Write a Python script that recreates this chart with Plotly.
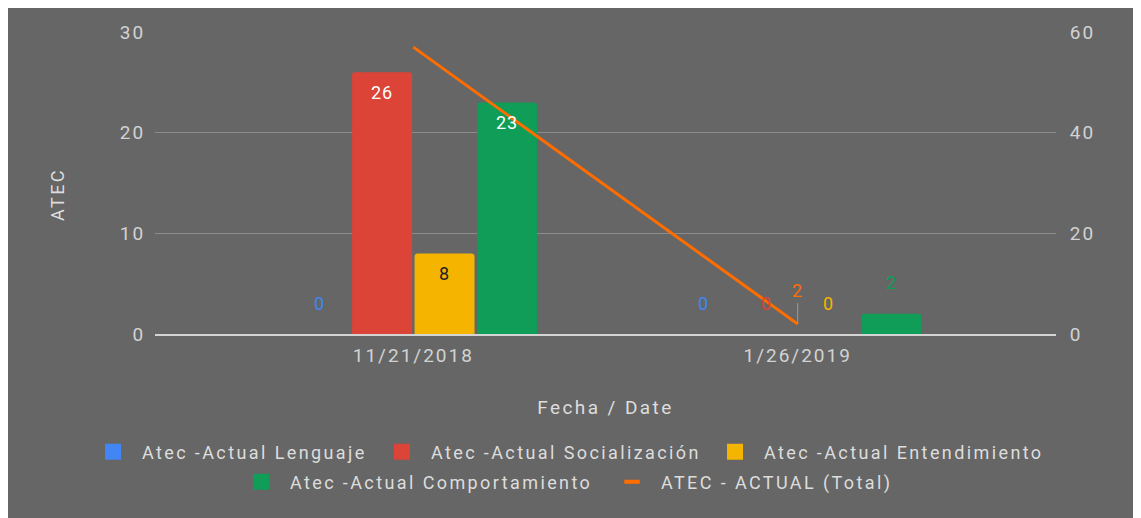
import plotly.graph_objects as go

# ---- data ----
dates = ["11/21/2018", "1/26/2019"]
series_names = ["Atec -Actual Lenguaje", "Atec -Actual Socialización",
                "Atec -Actual Entendimiento", "Atec -Actual Comportamiento"]
lenguaje = [0, 0]
socializacion = [26, 0]
entendimiento = [8, 0]
comportamiento = [23, 2]
total_name = "ATEC - ACTUAL (Total)"
total = [57, 2]
left_ticks = [0, 10, 20, 30]
right_ticks = [0, 20, 40, 60]
y_title = "ATEC"
x_title = "Fecha / Date"

# ---- style ----
series_values = [lenguaje, socializacion, entendimiento, comportamiento]
colors = ["#4285F4", "#DB4437", "#F4B400", "#0F9D58"]
inside_colors = ["#ffffff", "#ffffff", "#222222", "#ffffff"]
line_color = "#FF6D00"
bg = "#666666"
tick_col = "#d2d2d2"
FONT = "Roboto"
LS = 2.4
NB = "\u00a0"


def sp(t, ls=LS):
    return f'<span style="letter-spacing:{ls}px">{t}</span>'


def leg_name(t):
    return NB * 2 + sp(t)


# page body has an 8px margin, so the figure is offset by 8px
OFF = 8
W, H = 1141 - OFF, 518 - OFF
ml, mt = 155 - OFF, 32 - OFF
pw, ph = 1056 - 155, 334 - 32
mr, mb = W - ml - pw, H - mt - ph
xr = [-0.672, 1.672]
yr = [0, 30]
y2r = [0, 60]
bargap = 0.35
px_per_cat = pw / (xr[1] - xr[0])
slot = px_per_cat * (1 - bargap) / len(series_values)
px_per_unit = ph / (yr[1] - yr[0])

fig = go.Figure()
for i, (nm, vals) in enumerate(zip(series_names, series_values)):
    fig.add_trace(go.Bar(x=dates, y=vals, name=nm, marker_color=colors[i],
                         marker_line_width=0, showlegend=False, yaxis="y"))

fig.add_trace(go.Scatter(x=dates, y=total, mode="lines", yaxis="y2",
                         line=dict(color=line_color, width=3),
                         name=total_name, showlegend=False))

# legend entries: one small legend per entry, laid out in two centred rows
legend_ids = ["legend", "legend2", "legend3", "legend4", "legend5"]
for i, nm in enumerate(series_names):
    fig.add_trace(go.Scatter(x=[None], y=[None], mode="markers",
                             marker=dict(symbol="square", size=16, color=colors[i]),
                             name=leg_name(nm), legend=legend_ids[i]))
fig.add_trace(go.Scatter(x=[None], y=[None], mode="markers",
                         marker=dict(symbol="line-ew", size=11,
                                     line=dict(color=line_color, width=4)),
                         name=leg_name(total_name), legend=legend_ids[4]))

# swatch centres (px in reference) and row centres
leg_swatch_x = [113, 402, 735, 261, 632]
leg_row_y = [452, 452, 452, 482, 482]
leg_font = dict(family=FONT, size=18, color="#dddddd")
legends = {}
for lid, sx, ry in zip(legend_ids, leg_swatch_x, leg_row_y):
    legends[lid] = dict(orientation="h", xref="container", yref="container",
                        x=(sx - OFF - 20) / W, xanchor="left",
                        y=1 - (ry - OFF) / H, yanchor="middle",
                        font=leg_font, itemsizing="trace",
                        bgcolor="rgba(0,0,0,0)")

annotations = []
for i, vals in enumerate(series_values):
    xs = (i - (len(series_values) - 1) / 2) * slot
    for d, v in zip(dates, vals):
        inside = v * px_per_unit > 30
        annotations.append(dict(
            x=d, y=v, xref="x", yref="y", xshift=xs,
            yshift=-20 if inside else 31, showarrow=False,
            text=sp(str(v), 0.8), yanchor="middle",
            font=dict(family=FONT, size=18,
                      color=inside_colors[i] if inside else colors[i])))

annotations.append(dict(x=dates[1], y=total[1], xref="x", yref="y2",
                        text=sp(str(total[1]), 0.8), showarrow=True,
                        arrowhead=0, arrowwidth=1, arrowcolor="#9a9a9a",
                        ax=0, ay=-33,
                        font=dict(family=FONT, size=18, color=line_color)))

# left axis title (placed like the reference, slightly below centre)
annotations.append(dict(text=sp(y_title), textangle=-90, showarrow=False,
                        xref="paper", yref="paper",
                        x=(57 - 155) / pw, y=(334 - 195) / ph,
                        xanchor="center", yanchor="middle",
                        font=dict(family=FONT, size=18, color="#dddddd")))

fig.update_layout(
    width=W, height=H,
    margin=dict(l=ml, r=mr, t=mt, b=mb, autoexpand=False),
    paper_bgcolor=bg, plot_bgcolor=bg,
    barmode="group", bargap=bargap, bargroupgap=0.04, barcornerradius=3,
    font=dict(family=FONT, size=18, color=tick_col),
    xaxis=dict(type="category", range=xr, tickvals=dates,
               ticktext=[sp(d, 2.0) for d in dates],
               tickfont=dict(family=FONT, size=19, color=tick_col),
               showgrid=False, zeroline=False, showline=True,
               linecolor="#d4d4d4", linewidth=2, ticks="outside",
               ticklen=3, tickcolor="rgba(0,0,0,0)",
               title=dict(text=sp(x_title), standoff=35,
                          font=dict(family=FONT, size=19, color="#dddddd"))),
    yaxis=dict(range=yr, tickvals=left_ticks,
               ticktext=[sp(t, 2.0) for t in left_ticks],
               tickfont=dict(family=FONT, size=19, color=tick_col),
               showgrid=True, gridcolor="#8c8c8c", gridwidth=1,
               zeroline=False, ticks="outside", ticklen=5,
               tickcolor="rgba(0,0,0,0)"),
    yaxis2=dict(range=y2r, tickvals=right_ticks,
                ticktext=[sp(t, 2.0) for t in right_ticks],
                tickfont=dict(family=FONT, size=19, color=tick_col),
                overlaying="y", side="right", showgrid=False, zeroline=False,
                ticks="outside", ticklen=9, tickcolor="rgba(0,0,0,0)"),
    annotations=annotations,
    showlegend=True,
    **legends,
)

fig.write_html("out.html")
